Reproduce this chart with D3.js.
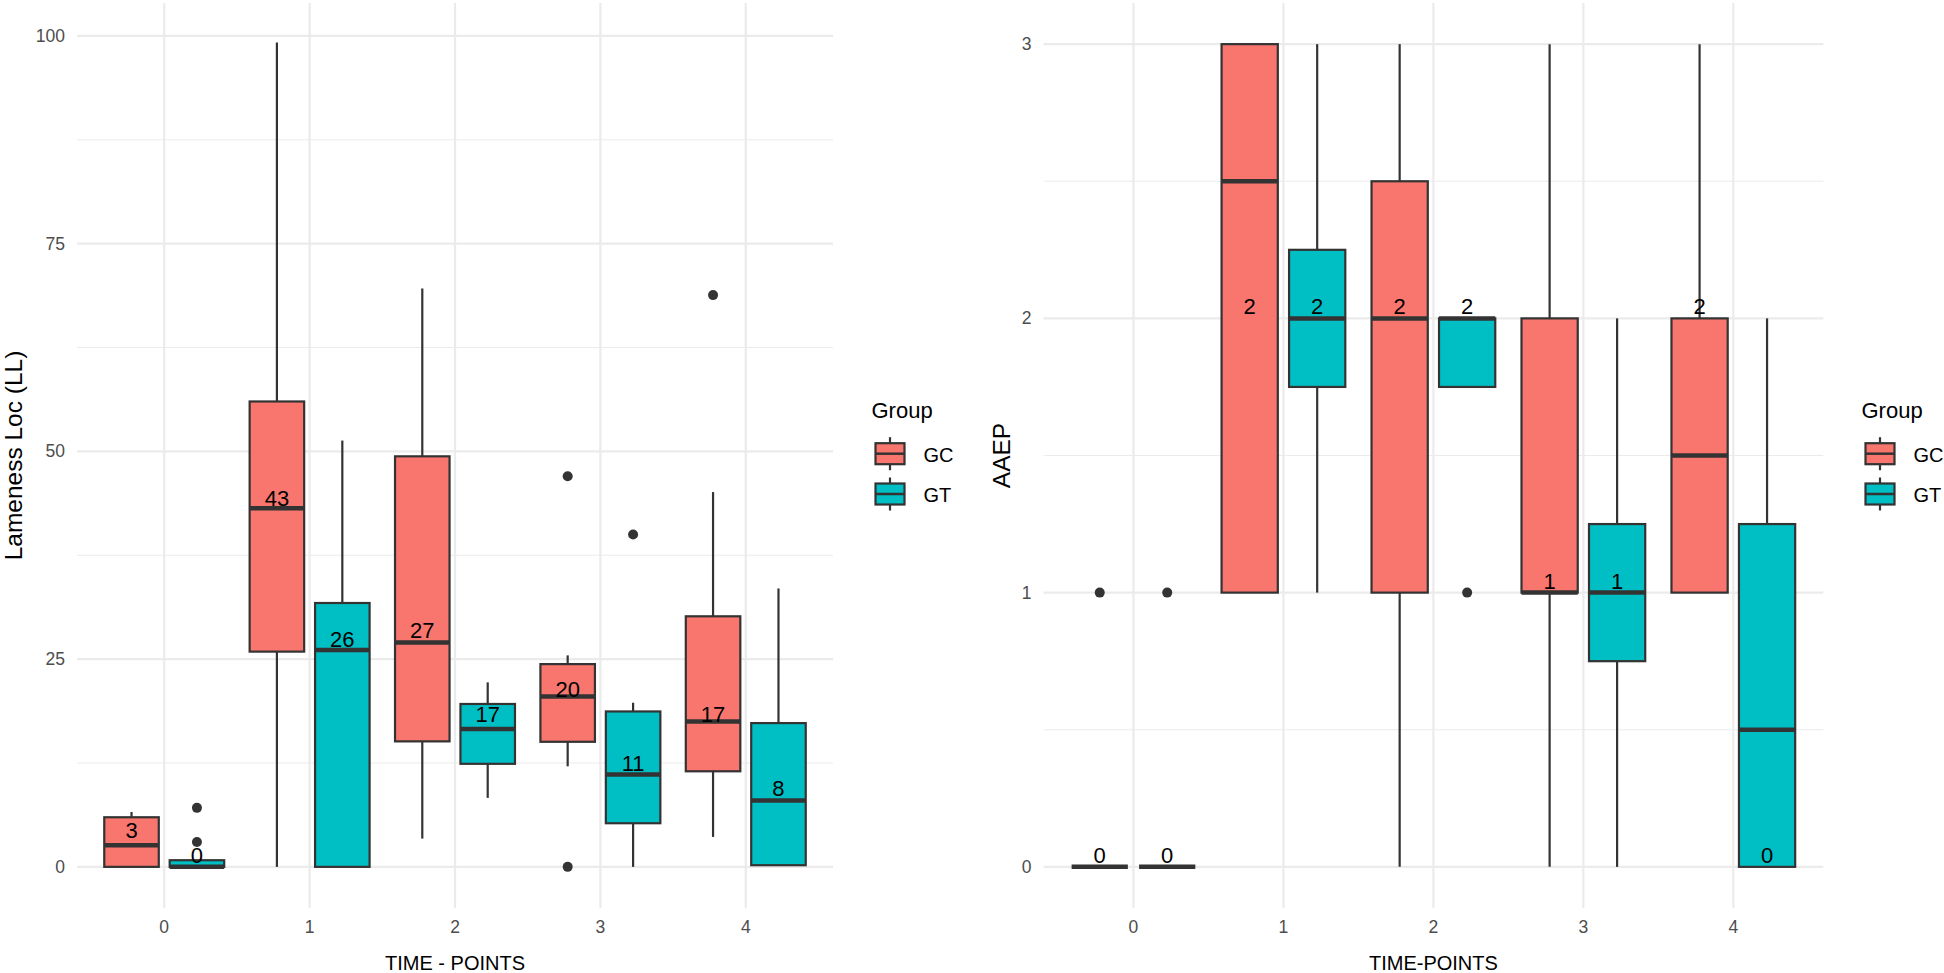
<!DOCTYPE html>
<html>
<head>
<meta charset="utf-8">
<script src="https://cdn.jsdelivr.net/npm/d3@7"></script>
<style>
  html, body { margin: 0; padding: 0; background: #ffffff; }
  svg { display: block; font-family: "Liberation Sans", Arial, Helvetica, sans-serif; }
</style>
</head>
<body>
<svg id="chart" width="1944" height="973"></svg>
<script>
// ---------------- DATA ----------------
const timePoints = ["0", "1", "2", "3", "4"];
const groups = ["GC", "GT"];
const groupColors = ["#F8766D", "#00BFC4"];

// Panel 1: Lameness Loc (LL)
const llTicks = [0, 25, 50, 75, 100];
const llMinorTicks = [12.5, 37.5, 62.5, 87.5];
const llGC_whiskerLow  = [0, 0, 3.4, 12.1, 3.6];
const llGC_q1          = [0, 25.9, 15.1, 15.05, 11.5];
const llGC_median      = [2.6, 43.15, 27.0, 20.5, 17.5];
const llGC_q3          = [5.97, 56.0, 49.4, 24.4, 30.15];
const llGC_whiskerHigh = [6.6, 99.2, 69.6, 25.45, 45.1];
const llGC_outliers    = [[], [], [], [0, 47], [68.8]];
const llGC_labels      = [3, 43, 27, 20, 17];

const llGT_whiskerLow  = [0, 0, 8.3, 0, 0.1];
const llGT_q1          = [0, 0, 12.4, 5.25, 0.2];
const llGT_median      = [0, 26.1, 16.6, 11.1, 8.0];
const llGT_q3          = [0.8, 31.75, 19.6, 18.7, 17.3];
const llGT_whiskerHigh = [0.8, 51.3, 22.2, 19.75, 33.5];
const llGT_outliers    = [[3.0, 7.1], [], [], [40.0], []];
const llGT_labels      = [0, 26, 17, 11, 8];

// Panel 2: AAEP
const aaepTicks = [0, 1, 2, 3];
const aaepMinorTicks = [0.5, 1.5, 2.5];
const aaepGC_whiskerLow  = [0, 1, 0, 0, 1];
const aaepGC_q1          = [0, 1, 1, 1, 1];
const aaepGC_median      = [0, 2.5, 2, 1, 1.5];
const aaepGC_q3          = [0, 3, 2.5, 2, 2];
const aaepGC_whiskerHigh = [0, 3, 3, 3, 3];
const aaepGC_outliers    = [[1], [], [], [], []];
const aaepGC_labels      = [0, 2, 2, 1, 2];

const aaepGT_whiskerLow  = [0, 1, 1.75, 0, 0];
const aaepGT_q1          = [0, 1.75, 1.75, 0.75, 0];
const aaepGT_median      = [0, 2, 2, 1, 0.5];
const aaepGT_q3          = [0, 2.25, 2, 1.25, 1.25];
const aaepGT_whiskerHigh = [0, 3, 2, 2, 2];
const aaepGT_outliers    = [[1], [], [1], [], []];
const aaepGT_labels      = [0, 2, 2, 1, 0];

// ---------------- BUILD ----------------
function buildRows(stats) {
  const rows = [];
  stats.forEach((s, gi) => {
    timePoints.forEach((t, ti) => {
      rows.push({
        time: t, group: groups[gi], gi: gi,
        lo: s.lo[ti], q1: s.q1[ti], med: s.med[ti], q3: s.q3[ti], hi: s.hi[ti],
        out: s.out[ti], label: s.lab[ti]
      });
    });
  });
  return rows;
}

const llRows = buildRows([
  {lo: llGC_whiskerLow, q1: llGC_q1, med: llGC_median, q3: llGC_q3, hi: llGC_whiskerHigh, out: llGC_outliers, lab: llGC_labels},
  {lo: llGT_whiskerLow, q1: llGT_q1, med: llGT_median, q3: llGT_q3, hi: llGT_whiskerHigh, out: llGT_outliers, lab: llGT_labels}
]);
const aaepRows = buildRows([
  {lo: aaepGC_whiskerLow, q1: aaepGC_q1, med: aaepGC_median, q3: aaepGC_q3, hi: aaepGC_whiskerHigh, out: aaepGC_outliers, lab: aaepGC_labels},
  {lo: aaepGT_whiskerLow, q1: aaepGT_q1, med: aaepGT_median, q3: aaepGT_q3, hi: aaepGT_whiskerHigh, out: aaepGT_outliers, lab: aaepGT_labels}
]);

const svg = d3.select("#chart");
const color = d3.scaleOrdinal().domain(groups).range(groupColors);
const STROKE = "#333333";

function drawPanel(cfg) {
  const g = svg.append("g");
  const x = d3.scaleBand().domain(timePoints)
    .range([cfg.left, cfg.right]).paddingInner(0).paddingOuter(0.1);
  const y = d3.scaleLinear().domain(cfg.domain).range([cfg.bottom, cfg.top]);
  const step = x.step();
  const offset = 0.225 * step;
  const boxW = 0.375 * step;
  const cx = d => x(d.time) + x.bandwidth() / 2 + (d.gi === 0 ? -offset : offset);

  // grid
  g.append("g").selectAll("line").data(cfg.minorTicks).join("line")
    .attr("x1", cfg.left).attr("x2", cfg.right)
    .attr("y1", d => y(d)).attr("y2", d => y(d))
    .attr("stroke", "#EBEBEB").attr("stroke-width", 1.1);
  g.append("g").selectAll("line").data(cfg.ticks).join("line")
    .attr("x1", cfg.left).attr("x2", cfg.right)
    .attr("y1", d => y(d)).attr("y2", d => y(d))
    .attr("stroke", "#EBEBEB").attr("stroke-width", 2.2);
  g.append("g").selectAll("line").data(timePoints).join("line")
    .attr("x1", d => x(d) + x.bandwidth() / 2).attr("x2", d => x(d) + x.bandwidth() / 2)
    .attr("y1", cfg.top).attr("y2", cfg.bottom)
    .attr("stroke", "#EBEBEB").attr("stroke-width", 2.2);

  // axes
  const ya = g.append("g").attr("transform", `translate(${cfg.left},0)`)
    .call(d3.axisLeft(y).tickValues(cfg.ticks).tickSize(0).tickPadding(12).tickFormat(d3.format("d")));
  ya.select(".domain").remove();
  ya.selectAll("text").attr("fill", "#4D4D4D").style("font-size", "17.5px")
    .style("font-family", "'Liberation Sans', Arial, sans-serif");

  const xa = g.append("g").attr("transform", `translate(0,${cfg.bottom})`)
    .call(d3.axisBottom(x).tickSize(0).tickPadding(13));
  xa.select(".domain").remove();
  xa.selectAll("text").attr("fill", "#4D4D4D").style("font-size", "17.5px")
    .style("font-family", "'Liberation Sans', Arial, sans-serif");

  // axis titles
  g.append("text")
    .attr("transform", `translate(${cfg.yTitleX},${(cfg.top + cfg.bottom) / 2}) rotate(-90)`)
    .attr("text-anchor", "middle").attr("fill", "#000").style("font-size", "24.5px")
    .text(cfg.yTitle);
  g.append("text")
    .attr("x", (cfg.left + cfg.right) / 2).attr("y", 970)
    .attr("text-anchor", "middle").attr("fill", "#000").style("font-size", "20px")
    .text(cfg.xTitle);

  // boxes
  const boxes = g.append("g").selectAll("g").data(cfg.rows).join("g");
  boxes.append("line")
    .attr("x1", cx).attr("x2", cx)
    .attr("y1", d => y(d.q3)).attr("y2", d => y(d.hi))
    .attr("stroke", STROKE).attr("stroke-width", 2.2);
  boxes.append("line")
    .attr("x1", cx).attr("x2", cx)
    .attr("y1", d => y(d.q1)).attr("y2", d => y(d.lo))
    .attr("stroke", STROKE).attr("stroke-width", 2.2);
  boxes.append("rect")
    .attr("x", d => cx(d) - boxW / 2).attr("width", boxW)
    .attr("y", d => y(d.q3)).attr("height", d => Math.max(0, y(d.q1) - y(d.q3)))
    .attr("fill", d => color(d.group))
    .attr("stroke", STROKE).attr("stroke-width", 2.2);
  boxes.append("line")
    .attr("x1", d => cx(d) - boxW / 2).attr("x2", d => cx(d) + boxW / 2)
    .attr("y1", d => y(d.med)).attr("y2", d => y(d.med))
    .attr("stroke", STROKE).attr("stroke-width", 4.5);
  boxes.selectAll("circle").data(d => d.out.map(v => ({v: v, d: d}))).join("circle")
    .attr("cx", o => cx(o.d)).attr("cy", o => y(o.v)).attr("r", 5)
    .attr("fill", STROKE);

  // labels
  g.append("g").selectAll("text").data(cfg.rows).join("text")
    .attr("x", cx).attr("y", d => y(d.label) - 4)
    .attr("text-anchor", "middle").attr("fill", "#000").style("font-size", "22px")
    .text(d => d.label);

  // legend
  const lg = g.append("g");
  lg.append("text").attr("x", cfg.legendX).attr("y", 417.5)
    .attr("fill", "#000").style("font-size", "22px").text("Group");
  groups.forEach((grp, i) => {
    const cy = 453.7 + i * 40.3;
    const kx = cfg.legendX + 4;
    const kc = kx + 14.5;
    lg.append("line").attr("x1", kc).attr("x2", kc).attr("y1", cy - 16.5).attr("y2", cy + 16.5)
      .attr("stroke", STROKE).attr("stroke-width", 2.2);
    lg.append("rect").attr("x", kx).attr("y", cy - 10.5).attr("width", 29).attr("height", 21)
      .attr("fill", color(grp)).attr("stroke", STROKE).attr("stroke-width", 2.2);
    lg.append("line").attr("x1", kx).attr("x2", kx + 29).attr("y1", cy).attr("y2", cy)
      .attr("stroke", STROKE).attr("stroke-width", 2.5);
    lg.append("text").attr("x", kx + 48).attr("y", cy + 8)
      .attr("fill", "#000").style("font-size", "20px").text(grp);
  });
}

drawPanel({
  rows: llRows, left: 77, right: 833, top: 3, bottom: 908,
  domain: [-4.95, 103.95], ticks: llTicks, minorTicks: llMinorTicks,
  yTitle: "Lameness Loc (LL)", yTitleX: 21.5, xTitle: "TIME - POINTS",
  legendX: 871.5
});
drawPanel({
  rows: aaepRows, left: 1043.5, right: 1823.3, top: 3, bottom: 908,
  domain: [-0.15, 3.15], ticks: aaepTicks, minorTicks: aaepMinorTicks,
  yTitle: "AAEP", yTitleX: 1010, xTitle: "TIME-POINTS",
  legendX: 1861.5
});
</script>
</body>
</html>
